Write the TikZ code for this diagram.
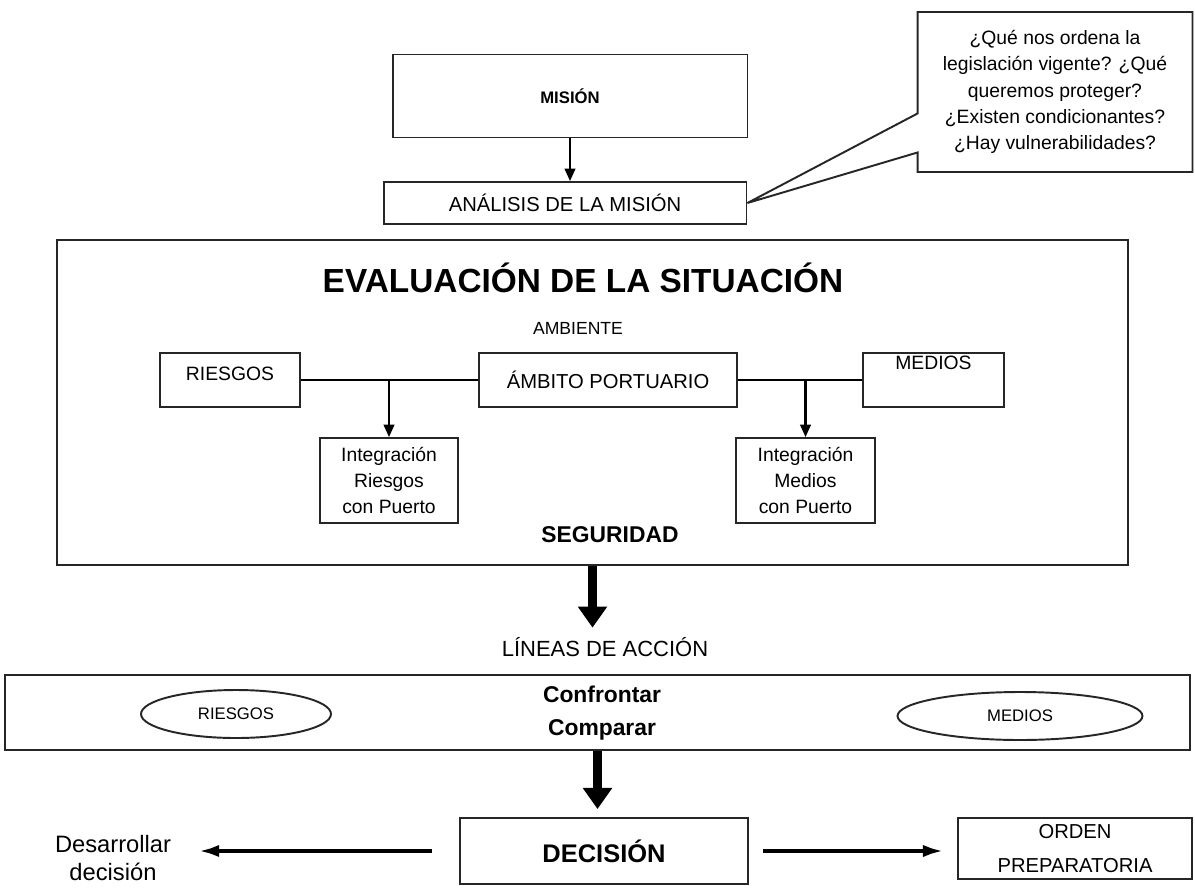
\documentclass[tikz,border=0pt]{standalone}
\usepackage{fontspec}
\setmainfont{Liberation Sans}
\usetikzlibrary{arrows.meta,shapes.geometric,shapes.callouts}

\begin{document}
\begin{tikzpicture}[x=0.02cm,y=-0.02cm]
	\useasboundingbox (0,0) rectangle (1195,888);
	\tikzstyle{caja}=[draw=black!85,line width=1.1pt,rectangle,inner sep=0pt,align=center,font=\fontsize{11}{15}\selectfont]
	\tikzstyle{flecha}=[-{Triangle[length=7pt,width=6pt]},line width=1.2pt]
	\tikzstyle{gruesa}=[-{Triangle[length=12pt,width=16pt]},line width=5.5pt]
	\tikzstyle{lateral}=[-{Latex[length=12pt,width=7pt]},line width=2.6pt]
	\tikzstyle{elipse}=[draw=black!85,ellipse,line width=1.1pt,font=\fontsize{9.5}{12}\selectfont]
	% mision y analisis
	\node[caja,minimum width=7.1cm,minimum height=1.66cm,font=\bfseries\fontsize{9.5}{12}\selectfont] (mision) at (570,96) {MISIÓN};
	\node[caja,minimum width=7.26cm,minimum height=0.84cm,font=\fontsize{11.5}{14}\selectfont] (analisis) at (565,203) {ANÁLISIS DE LA MISIÓN};
	\node[caja,rectangle callout,callout absolute pointer={(analisis.east)},callout pointer width=0.78cm,minimum width=5.5cm,minimum height=3.2cm] (preguntas) at (1055,92) {¿Qué nos ordena la\\legislación vigente? ¿Qué\\queremos proteger?\\¿Existen condicionantes?\\¿Hay vulnerabilidades?};
	\draw[flecha] (mision.south) -- (mision.south |- analisis.north);
	% evaluacion de la situacion
	\node[caja,minimum width=21.42cm,minimum height=6.5cm] (evaluacion) at (592.5,402.5) {};
	\node[font=\bfseries\fontsize{19}{23}\selectfont] (titulo) at (583,278) {EVALUACIÓN DE LA SITUACIÓN};
	\node[font=\fontsize{10}{12}\selectfont] (ambiente) at (578,328) {AMBIENTE};
	\node[caja,minimum width=2.8cm,minimum height=1.08cm,text height=8pt,text depth=8pt] (riesgos) at (230,380) {RIESGOS};
	\node[caja,minimum width=5.16cm,minimum height=1.08cm,font=\fontsize{11.5}{14}\selectfont] (ambito) at (608,380) {ÁMBITO PORTUARIO};
	\node[caja,minimum width=2.82cm,minimum height=1.08cm,text height=8pt,text depth=20pt] (medios) at (933.5,380) {MEDIOS};
	\node[caja,minimum width=2.76cm,minimum height=1.7cm] (intR) at (389,480.5) {Integración\\Riesgos\\con Puerto};
	\node[caja,minimum width=2.78cm,minimum height=1.7cm] (intM) at (805.5,480.5) {Integración\\Medios\\con Puerto};
	\draw[line width=1.1pt] (riesgos.east) -- (ambito.west);
	\draw[line width=1.1pt] (ambito.east) -- (medios.west);
	\draw[flecha] (riesgos.east -| intR.north) -- (intR.north);
	\draw[flecha] (medios.west -| intM.north) -- (intM.north);
	\node[font=\bfseries\fontsize{13}{16}\selectfont] (seguridad) at (610,535) {SEGURIDAD};
	% lineas de accion
	\node[font=\fontsize{12.5}{15}\selectfont] (lineas) at (605,647) {LÍNEAS DE ACCIÓN};
	\draw[gruesa,shorten >=2pt] (evaluacion.south) -- (evaluacion.south |- lineas.north);
	\node[caja,minimum width=23.7cm,minimum height=1.5cm] (banda) at (597.5,712.5) {};
	\node[elipse,minimum width=3.8cm,minimum height=0.96cm] (riesgosE) at (236,714) {RIESGOS};
	\node[elipse,minimum width=4.9cm,minimum height=0.96cm] (mediosE) at (1020,716) {MEDIOS};
	\node[align=center,font=\bfseries\fontsize{13}{18.5}\selectfont] (confrontar) at (602,713) {Confrontar\\Comparar};
	% decision
	\node[caja,minimum width=5.76cm,minimum height=1.32cm,font=\bfseries\fontsize{14.5}{17}\selectfont] (decision) at (604,851) {DECISIÓN};
	\draw[gruesa,shorten >=0.16cm] (banda.south) -- (banda.south |- decision.north);
	\node[align=center,inner sep=1pt,font=\fontsize{13.5}{15.5}\selectfont] (desarrollar) at (113,858) {Desarrollar\\decisión};
	\node[caja,minimum width=4.68cm,minimum height=1.22cm,font=\fontsize{11.5}{19}\selectfont] (orden) at (1075,848.5) {ORDEN\\PREPARATORIA};
	\draw[lateral,shorten <=0.54cm,shorten >=0.5cm] (decision.west) -- (decision.west -| desarrollar.east);
	\draw[lateral,shorten <=0.28cm,shorten >=0.26cm] (decision.east) -- (decision.east -| orden.west);
\end{tikzpicture}
\end{document}
